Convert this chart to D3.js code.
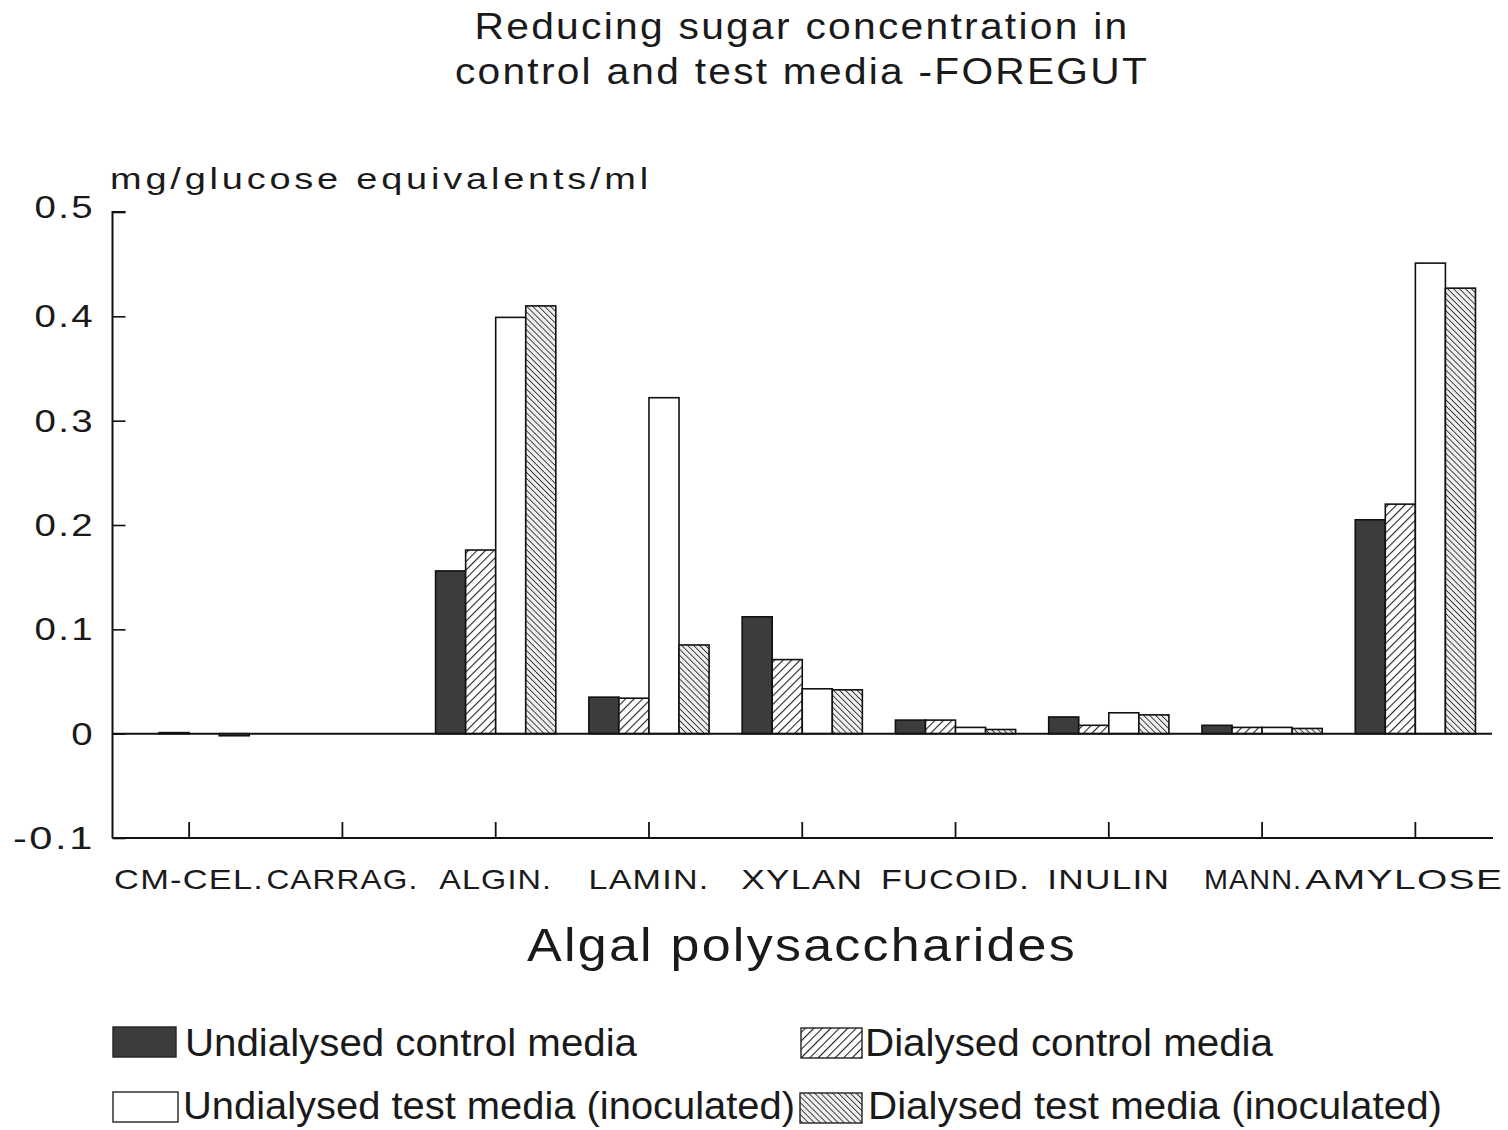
<!DOCTYPE html>
<html>
<head>
<meta charset="utf-8">
<script src="https://cdn.jsdelivr.net/npm/d3@7"></script>
<style>
  html, body { margin: 0; padding: 0; background: #fff; }
  svg { display: block; }
  text { fill: #1a1a1a; }
</style>
</head>
<body>
<svg id="chart" width="1508" height="1130"></svg>
<script>
// ---- data ----
const categories = ["CM-CEL.", "CARRAG.", "ALGIN.", "LAMIN.", "XYLAN", "FUCOID.", "INULIN", "MANN.", "AMYLOSE"];
const seriesNames = [
  "Undialysed control media",
  "Dialysed control media",
  "Undialysed test media (inoculated)",
  "Dialysed test media (inoculated)"
];
const undialysedControl = [0.000, 0.000, 0.156, 0.035, 0.112, 0.013, 0.016, 0.008, 0.205];
const dialysedControl   = [0.001, 0.000, 0.176, 0.034, 0.071, 0.013, 0.008, 0.006, 0.220];
const undialysedTest    = [0.000, 0.000, 0.399, 0.322, 0.043, 0.006, 0.020, 0.006, 0.451];
const dialysedTest      = [-0.002, 0.000, 0.410, 0.085, 0.042, 0.004, 0.018, 0.005, 0.427];
const yTicks = [-0.1, 0, 0.1, 0.2, 0.3, 0.4, 0.5];
const yTickLabels = ["-0.1", "0", "0.1", "0.2", "0.3", "0.4", "0.5"];

const seriesValues = [undialysedControl, dialysedControl, undialysedTest, dialysedTest];

const svg = d3.select("#chart");
const SANS = "Liberation Sans, Arial, Helvetica, sans-serif";

// stretch a text element horizontally (wide "extended" look of the original)
function fit(sel, target) {
  sel.each(function (d, i) {
    const t = typeof target === "function" ? target.call(this, d, i, this.getComputedTextLength()) : target;
    d3.select(this).attr("textLength", t).attr("lengthAdjust", "spacingAndGlyphs");
  });
  return sel;
}

// ---- patterns ----
const defs = svg.append("defs");
const p1 = defs.append("pattern").attr("id", "hatchFwd")
  .attr("patternUnits", "userSpaceOnUse").attr("width", 6).attr("height", 6)
  .attr("patternTransform", "rotate(45)");
p1.append("rect").attr("width", 6).attr("height", 6).attr("fill", "#fff");
p1.append("line").attr("x1", 0).attr("y1", 0).attr("x2", 0).attr("y2", 6)
  .attr("stroke", "#222").attr("stroke-width", 2.2);

const p2 = defs.append("pattern").attr("id", "hatchBack")
  .attr("patternUnits", "userSpaceOnUse").attr("width", 4.2).attr("height", 4.2)
  .attr("patternTransform", "rotate(-45)");
p2.append("rect").attr("width", 4.2).attr("height", 4.2).attr("fill", "#eee");
p2.append("line").attr("x1", 0).attr("y1", 0).attr("x2", 0).attr("y2", 4.2)
  .attr("stroke", "#2a2a2a").attr("stroke-width", 1.7);

const fills = ["#3c3c3c", "url(#hatchFwd)", "#ffffff", "url(#hatchBack)"];

// ---- scales ----
const plotLeft = 112.5, plotRight = 1492, plotTop = 212, plotBottom = 838;
const x0 = d3.scaleBand().domain(categories).range([plotLeft, plotRight])
  .paddingInner(0.2157).paddingOuter(0.2157 / 2);
const x1 = d3.scaleBand().domain(d3.range(seriesNames.length)).range([0, x0.bandwidth()]);
const y = d3.scaleLinear().domain([-0.1, 0.5]).range([plotBottom, plotTop]);

// ---- bars ----
const g = svg.append("g");
categories.forEach((c, i) => {
  seriesValues.forEach((vals, s) => {
    const v = vals[i];
    const y0 = y(0), yv = y(v);
    g.append("rect")
      .attr("x", x0(c) + x1(s))
      .attr("y", Math.min(y0, yv))
      .attr("width", x1.bandwidth())
      .attr("height", Math.abs(yv - y0))
      .attr("fill", fills[s])
      .attr("stroke", "#111")
      .attr("stroke-width", 1.6);
  });
});

// ---- zero line ----
svg.append("line").attr("x1", plotLeft).attr("x2", plotRight)
  .attr("y1", y(0)).attr("y2", y(0)).attr("stroke", "#111").attr("stroke-width", 2);

// ---- y axis ----
const yAxis = d3.axisRight(y).tickValues(yTicks).tickSize(13).tickFormat("");
const ya = svg.append("g").attr("transform", `translate(${plotLeft},0)`).call(yAxis);
ya.select(".domain").attr("stroke", "#111").attr("stroke-width", 2).attr("d", `M13,${plotTop}H0V${plotBottom}`);
ya.selectAll(".tick line").attr("stroke", "#111").attr("stroke-width", 1.6);

const yl = svg.append("g").selectAll("text").data(yTicks).join("text")
  .attr("x", 95).attr("y", d => y(d) + (d === 0.5 ? 6 : 11))
  .attr("text-anchor", "end")
  .attr("font-family", SANS)
  .attr("font-size", 32)
  .attr("letter-spacing", 2)
  .text((d, i) => yTickLabels[i]);
fit(yl, (d, i, w) => w * (d < 0 ? 1.3 : 1.2));

// ---- x axis ----
const xAxis = d3.axisTop(x0).tickSize(16).tickFormat("");
const xa = svg.append("g").attr("transform", `translate(0,${plotBottom})`).call(xAxis);
xa.select(".domain").attr("stroke", "#111").attr("stroke-width", 2).attr("d", `M${plotLeft},0H${plotRight + 1}`);
xa.selectAll(".tick line").attr("stroke", "#111").attr("stroke-width", 1.8);

const labelWidths = [150, 152, 113, 121, 122, 149, 123, 98, 198];
const labelShift = [0, 0, 0, 0, 0, 0, 0, -9, -11];
const xl = svg.append("g").selectAll("text").data(categories).join("text")
  .attr("x", (d, i) => x0(d) + x0.bandwidth() / 2 + labelShift[i])
  .attr("y", 889)
  .attr("text-anchor", "middle")
  .attr("font-family", SANS)
  .attr("font-size", 28)
  .attr("letter-spacing", 1)
  .text(d => d);
fit(xl, (d, i) => labelWidths[i]);

// ---- titles ----
const txt = (x, yy, s, size, w, anchor, ls) => {
  const t = svg.append("text")
    .attr("x", x).attr("y", yy).attr("text-anchor", anchor || "middle")
    .attr("font-family", SANS)
    .attr("font-size", size)
    .attr("letter-spacing", ls || 0)
    .text(s);
  return fit(t, w);
};

txt(802, 39, "Reducing sugar concentration in", 36, 655, "middle", 2);
txt(802, 84, "control and test media -FOREGUT", 36, 694, "middle", 2);
txt(110, 189, "mg/glucose equivalents/ml", 30, 542, "start", 3);
txt(802, 961, "Algal polysaccharides", 46, 550, "middle", 2);

// ---- legend ----
const legend = [
  { s: 0, bx: 113, by: 1027, bw: 63, bh: 30, tx: 185, ty: 1056, tw: 452 },
  { s: 1, bx: 801, by: 1028, bw: 61, bh: 30, tx: 865, ty: 1056, tw: 408 },
  { s: 2, bx: 113, by: 1092, bw: 65, bh: 30, tx: 183, ty: 1119, tw: 612 },
  { s: 3, bx: 800, by: 1093, bw: 62, bh: 30, tx: 868, ty: 1119, tw: 574 }
];
legend.forEach(l => {
  svg.append("rect").attr("x", l.bx).attr("y", l.by).attr("width", l.bw).attr("height", l.bh)
    .attr("fill", fills[l.s]).attr("stroke", "#222").attr("stroke-width", 1.4);
  const t = svg.append("text")
    .attr("x", l.tx).attr("y", l.ty)
    .attr("font-family", "Liberation Sans Narrow, Arial Narrow, Liberation Sans, sans-serif")
    .attr("font-size", 38)
    .text(seriesNames[l.s]);
  fit(t, l.tw);
});
</script>
</body>
</html>
